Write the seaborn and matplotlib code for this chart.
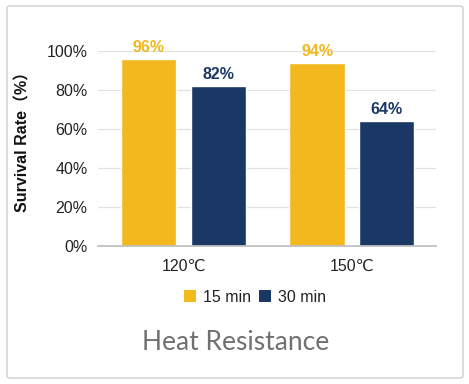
import matplotlib
matplotlib.use("Agg")
import matplotlib.pyplot as plt
from matplotlib.patches import FancyBboxPatch, Patch
import seaborn as sns
import pandas as pd

categories = ["120℃", "150℃"]
series = ["15 min", "30 min"]
values_15 = [0.96, 0.94]
values_30 = [0.82, 0.64]
colors = ["#F2B81E", "#1B3766"]

df = pd.DataFrame({
    "temp": categories * 2,
    "time": [series[0]] * 2 + [series[1]] * 2,
    "rate": values_15 + values_30,
})

sns.set_theme(style="white")
plt.rcParams["font.family"] = ["Liberation Sans", "DejaVu Sans", "Noto Sans CJK SC"]

fig = plt.figure(figsize=(4.69, 3.84), dpi=100)
fig.patch.set_facecolor("white")
card = FancyBboxPatch((7 / 469, 6 / 384), 456 / 469, 372 / 384,
                      boxstyle="round,pad=0,rounding_size=0.006",
                      transform=fig.transFigure, facecolor="white",
                      edgecolor="#d6d6d6", linewidth=1.2, zorder=-10)
fig.patches.append(card)

ax = fig.add_axes([98 / 469, 138 / 384, 338 / 469, 195 / 384])
ax.set_zorder(2)
ax.patch.set_alpha(0)
sns.barplot(data=df, x="temp", y="rate", hue="time", palette=colors,
            width=0.83, gap=0.21, ax=ax, legend=False, saturation=1)
ax.set_xlim(-0.51, 1.50)
ax.set_ylim(0, 1.0)
ticks = [0, 0.2, 0.4, 0.6, 0.8, 1.0]
ax.set_yticks(ticks)
ax.set_yticklabels([f"{int(round(v*100))}%" for v in ticks])
ax.yaxis.grid(True, color="#e2e2e2", linewidth=0.9)
ax.set_axisbelow(True)
for s in ["top", "right", "left"]:
    ax.spines[s].set_visible(False)
ax.spines["bottom"].set_color("#bfbfbf")
ax.tick_params(axis="both", length=0, labelsize=11.5, colors="#222222")
ax.tick_params(axis="y", pad=7.5)
ax.tick_params(axis="x", pad=9)
ax.set_xlabel("")
ax.set_ylabel("Survival Rate（%）", fontsize=11.5, fontweight="bold",
              family=["Liberation Sans", "Noto Sans CJK SC"], color="#111111")
ax.yaxis.set_label_coords(-0.201, 0.554)

for container, col in zip(ax.containers, colors):
    ax.bar_label(container, labels=[f"{int(round(v*100))}%" for v in container.datavalues],
                 color=col, fontsize=11.5, fontweight="bold", padding=3, clip_on=False)

handles = [Patch(facecolor=c, edgecolor="none") for c in colors]
fig.legend(handles, series, loc="center", bbox_to_anchor=(255 / 469, 1 - 297 / 384),
           ncol=2, frameon=False, fontsize=11.5, handlelength=0.75, handleheight=0.75,
           handletextpad=0.45, columnspacing=0.45, labelcolor="#222222")

fig.text(236 / 469, 1 - 343 / 384, "Heat Resistance", ha="center", va="center",
         fontsize=19, color="#707070", family="Lato")

fig.savefig("out.png", dpi=100, facecolor="white")
